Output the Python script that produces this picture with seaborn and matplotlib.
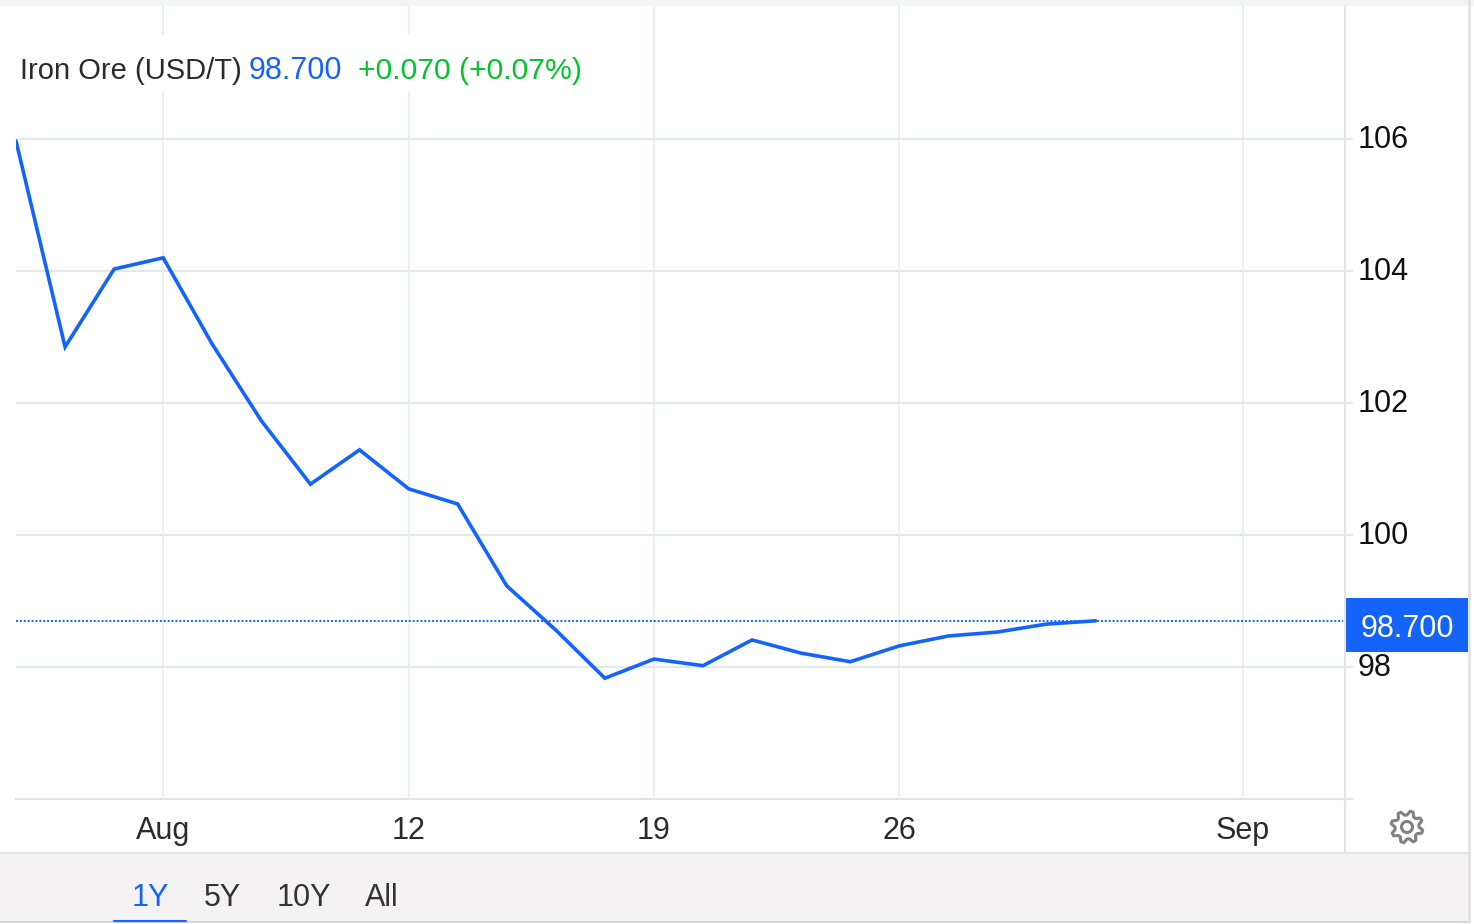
import numpy as np
import pandas as pd
import seaborn as sns
import matplotlib.pyplot as plt
from matplotlib.patches import Rectangle, Polygon, Circle
from matplotlib.transforms import ScaledTranslation

# one value per trading session, last one is the current quote
session = list(range(23))
price = [105.97, 102.85, 104.03, 104.20, 102.89, 101.73, 100.77, 101.29, 100.70,
         100.47, 99.23, 98.56, 97.83, 98.12, 98.02, 98.41, 98.21, 98.08, 98.32,
         98.47, 98.53, 98.65, 98.70]
x_ticks = [3, 8, 13, 18, 25]
x_labels = ["Aug", "12", "19", "26", "Sep"]
y_ticks = [98, 100, 102, 104, 106]
last_price = 98.70
tabs = ["1Y", "5Y", "10Y", "All"]

BLUE = "#1464fb"
GREEN = "#00c42c"
W, H = 1474, 924

sns.set_theme(style="white")
plt.rcParams["font.family"] = ["Liberation Sans", "DejaVu Sans"]

data = pd.DataFrame({"session": session, "price": price})

fig = plt.figure(figsize=(W / 100, H / 100), dpi=100)
fig.patch.set_facecolor("white")

# main chart area, placed in pixels
ax = fig.add_axes([16 / W, 1 - 799 / H, (1343 - 16) / W, (799 - 6) / H])
ax.set_xlim(0, (1343 - 16) / 49.07)
ax.set_ylim(96, 96 + (799 - 6) / 66)
ax.grid(False)
for x in x_ticks:
    ax.axvline(x, color="#e8f1f2", lw=1.5, zorder=1)
for y in y_ticks:
    ax.axhline(y, color="#e6e8e8", lw=1.5, zorder=1)
ax.axhline(last_price, color=BLUE, lw=1.4, ls=(0, (1, 1)), zorder=2)

sns.lineplot(data=data, x="session", y="price", color=BLUE, linewidth=2.6, ax=ax, zorder=3,
             solid_joinstyle="miter", errorbar=None)
ax.set_xlabel("")
ax.set_ylabel("")

for side in ["top", "left", "right"]:
    ax.spines[side].set_visible(False)
ax.spines["bottom"].set_color("#e2e4e4")
ax.spines["bottom"].set_linewidth(1.5)

ax.yaxis.tick_right()
ax.set_yticks(y_ticks)
ax.set_xticks(x_ticks)
ax.set_xticklabels(x_labels)
ax.tick_params(axis="y", length=7, width=1.5, color="#e6e8e8", pad=3.5, labelsize=22, labelcolor="#111111")
ax.tick_params(axis="x", length=0, pad=12.5, labelsize=22, labelcolor="#2b2b2b")

# right axis numbers sit slightly above their gridlines
lift = ScaledTranslation(0, 3 / 100, fig.dpi_scale_trans)
for label in ax.get_yticklabels():
    label.set_transform(label.get_transform() + lift)

# page furniture around the chart, drawn in pixel coordinates
ov = fig.add_axes([0, 0, 1, 1], facecolor="none")
ov.set_xlim(0, W)
ov.set_ylim(H, 0)
ov.axis("off")

ov.add_patch(Rectangle((0, 0), W, 6, color="#f5f4f5", lw=0))
ov.add_patch(Rectangle((0, 853), 1469, 69, color="#f4f2f3", lw=0))
ov.plot([0, 1469], [853, 853], color="#e4e4e4", lw=1.5)
ov.plot([0, 1469], [922, 922], color="#d8d8d8", lw=1.5)
ov.plot([1469, 1469], [0, 922], color="#e2e2e2", lw=2)
ov.plot([1345, 1345], [6, 853], color="#e4e4e4", lw=1.5)
ov.plot([1345, 1353], [799, 799], color="#e4e4e4", lw=1.5)

# legend line hides the gridlines behind it
ov.add_patch(Rectangle((16, 35), 575, 57, color="white", lw=0))
ov.text(20, 71, "Iron Ore (USD/T)", fontsize=21, color="#2b2b2b", va="center", ha="left")
ov.text(249, 71, "98.700", fontsize=22, color=BLUE, va="center", ha="left")
ov.text(358, 71, "+0.070 (+0.07%)", fontsize=21.7, color=GREEN, va="center", ha="left")

# current price flag
ov.add_patch(Rectangle((1346, 598), 122, 54, color=BLUE, lw=0))
ov.text(1407, 629, "98.700", fontsize=22, color="white", va="center", ha="center")

# range tabs
for label, cx in zip(tabs, [150.5, 222, 303.5, 381.5]):
    ov.text(cx, 898, label, fontsize=22, color=BLUE if label == "1Y" else "#333333", va="center", ha="center")
ov.plot([114, 186], [921, 921], color=BLUE, lw=1.5)

# settings gear
cx, cy = 1407, 827
angles = np.linspace(0, 2 * np.pi, 8 * 4, endpoint=False) + np.pi / 8 - np.pi / 16
radii = np.array([16, 16, 12, 12] * 8)
gear = np.column_stack([cx + radii * np.cos(angles), cy + radii * np.sin(angles)])
ov.add_patch(Polygon(gear, closed=True, fill=False, edgecolor="#808080", lw=2.2, joinstyle="round"))
ov.add_patch(Circle((cx, cy), 5.5, fill=False, edgecolor="#808080", lw=2.2))

fig.savefig("out.png", dpi=100)
